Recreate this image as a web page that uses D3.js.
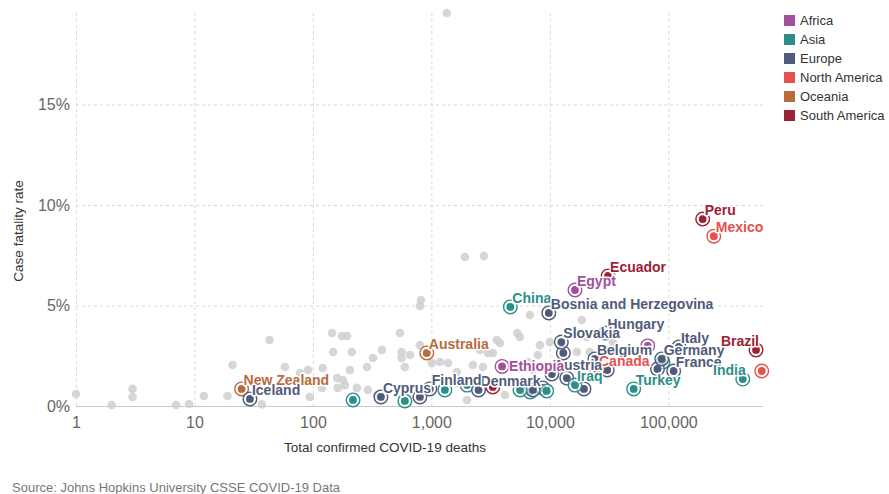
<!DOCTYPE html>
<html>
<head>
<meta charset="utf-8">
<script src="https://cdn.jsdelivr.net/npm/d3@7"></script>
<style>
  html, body { margin: 0; padding: 0; background: #fff; }
  svg { display: block; font-family: "Liberation Sans", Arial, Helvetica, sans-serif; }
</style>
</head>
<body>
<svg id="chart" width="889" height="494"></svg>
<script>
// Continents and their colours
const continents = ["Africa", "Asia", "Europe", "North America", "Oceania", "South America"];
const continentColors = ["#a2509e", "#2b8f88", "#505b7a", "#e5514e", "#b86b3d", "#9b2335"];

// Axis ticks
const xTicks = [1, 10, 100, 1000, 10000, 100000];
const yTicks = [0, 0.05, 0.10, 0.15];

// Countries drawn in grey (total deaths, case fatality rate)
const otherDeaths = [1, 2, 3, 3, 7, 9, 12, 19, 21, 43, 37, 58, 78, 91, 94, 121, 119, 145, 176, 194,
  148, 160, 179, 186, 162, 213, 205, 235, 286, 321, 382, 542, 560, 560, 659, 597, 291, 347,
  800, 1010, 1180, 1380, 1640, 2000, 2240, 2720, 3300, 3570, 1180, 1350, 1920, 2770, 815, 800,
  6780, 5580, 5300, 3790, 3000, 7920, 10000, 8240, 18600, 20500, 34000, 16900, 21800,
  6520, 7190, 4170, 1640, 2570];
const otherCfr = [0.0060, 0.0005, 0.0085, 0.0045, 0.0005, 0.0010, 0.0050, 0.0050, 0.0204, 0.0328, 0.0008,
  0.0194, 0.0164, 0.0179, 0.0045, 0.0189, 0.0090, 0.0363, 0.0348, 0.0348,
  0.0269, 0.0139, 0.0129, 0.0104, 0.0090, 0.0269, 0.0179, 0.0090, 0.0194, 0.0239, 0.0279, 0.0363, 0.0269, 0.0239, 0.0254, 0.0194, 0.0080, 0.0055,
  0.0303, 0.0214, 0.0219, 0.0214, 0.0169, 0.0030, 0.0204, 0.0194, 0.0264, 0.0328, 0.0139, 0.1955, 0.0741, 0.0746, 0.0527, 0.0498,
  0.0453, 0.0343, 0.0363, 0.0313, 0.0264, 0.0254, 0.0318, 0.0303, 0.0428, 0.0343, 0.0318, 0.0269, 0.0269,
  0.0219, 0.0179, 0.0055, 0.0114, 0.0279];

// Highlighted countries
const focusNames = ["United States", "South Africa", "Iran", "Spain", "Czechia", "Greece", "Venezuela",
  "Portugal", "Netherlands", "Japan", "Malaysia", "Serbia", "Israel", "Nepal", "Sri Lanka", "Kuwait",
  "Luxembourg", "Qatar", "Maldives",
  "Peru", "Mexico", "Ecuador", "Egypt", "China", "Bosnia and Herzegovina", "Hungary", "Slovakia",
  "Italy", "Germany", "France", "Belgium", "Canada", "Austria", "Ethiopia", "Denmark", "Finland",
  "Cyprus", "Iraq", "Turkey", "India", "Brazil", "New Zealand", "Iceland", "Australia"];
const focusContinents = ["North America", "Africa", "Asia", "Europe", "Europe", "Europe", "South America",
  "Europe", "Europe", "Europe", "Asia", "Europe", "Asia", "Asia", "Asia", "Asia",
  "Europe", "Asia", "Asia",
  "South America", "North America", "South America", "Africa", "Asia", "Europe", "Europe", "Europe",
  "Europe", "Europe", "Europe", "Europe", "North America", "Europe", "Africa", "Europe", "Europe",
  "Europe", "Asia", "Asia", "Asia", "South America", "Oceania", "Europe", "Oceania"];
const focusDeaths = [615000, 67000, 90000, 81000, 30500, 13000, 3300,
  13900, 19400, 8700, 6800, 7200, 9400, 5600, 2000, 1300,
  800, 597, 218,
  195000, 242000, 31000, 16300, 4640, 9800, 29500, 12500,
  123000, 88000, 111000, 24000, 25000, 10400, 3950, 2500, 970,
  375, 16300, 51000, 425000, 550000, 25, 29.4, 915];
const focusCfr = [0.0174, 0.0299, 0.0219, 0.0184, 0.0179, 0.0264, 0.0095,
  0.0139, 0.0085, 0.0090, 0.0070, 0.0080, 0.0075, 0.0080, 0.0104, 0.0080,
  0.0045, 0.0025, 0.0030,
  0.0930, 0.0845, 0.0647, 0.0577, 0.0493, 0.0463, 0.0363, 0.0318,
  0.0294, 0.0234, 0.0174, 0.0234, 0.0179, 0.0159, 0.0197, 0.0080, 0.0085,
  0.0045, 0.0104, 0.0085, 0.0134, 0.0279, 0.0085, 0.0035, 0.0264];
const labelledCountries = ["Peru", "Mexico", "Ecuador", "Egypt", "China", "Bosnia and Herzegovina",
  "Hungary", "Slovakia", "Italy", "Germany", "France", "Belgium", "Austria", "Canada", "Ethiopia",
  "Denmark", "Finland", "Cyprus", "Iraq", "Turkey", "India", "Brazil", "New Zealand", "Iceland", "Australia"];

// Label placement relative to the point (default: above right)
const labelSide = { "Ethiopia": "right", "India": "left", "Brazil": "left" };

const svg = d3.select("#chart");
const plotLeft = 76, plotRight = 763, plotTop = 12, plotBottom = 406;

const x = d3.scaleLog().domain([1, 630000]).range([plotLeft, plotRight]);
const y = d3.scaleLinear().domain([0, 0.196]).range([plotBottom, plotTop]);
const color = d3.scaleOrdinal().domain(continents).range(continentColors);

// Vertical grid + x tick labels
const xAxis = svg.append("g")
  .attr("transform", `translate(0,${plotBottom})`)
  .call(d3.axisBottom(x).tickValues(xTicks).tickFormat(d3.format(",")).tickSize(-(plotBottom - plotTop)).tickPadding(11));
xAxis.select(".domain").remove();
xAxis.selectAll(".tick line").attr("stroke", "#d9d9d9").attr("stroke-dasharray", "3,3");
xAxis.selectAll(".tick text").attr("fill", "#666").style("font-size", "16px")
  .style("font-family", "'Liberation Sans', Arial, sans-serif");

// Horizontal grid + y tick labels
const yAxis = svg.append("g")
  .attr("transform", `translate(${plotLeft},0)`)
  .call(d3.axisLeft(y).tickValues(yTicks).tickFormat(d3.format(".0%")).tickSize(-(plotRight - plotLeft)).tickPadding(6));
yAxis.select(".domain").remove();
yAxis.selectAll(".tick line")
  .attr("stroke", d => d === 0 ? "#c8c8c8" : "#d9d9d9")
  .attr("stroke-dasharray", d => d === 0 ? null : "3,3");
yAxis.selectAll(".tick text").attr("fill", "#666").style("font-size", "16px")
  .style("font-family", "'Liberation Sans', Arial, sans-serif");

// Axis titles
svg.append("text")
  .attr("x", 385).attr("y", 452)
  .attr("text-anchor", "middle").attr("fill", "#333").style("font-size", "13.5px")
  .text("Total confirmed COVID-19 deaths");
svg.append("text")
  .attr("transform", `translate(23,${(plotTop + plotBottom) / 2 + 22}) rotate(-90)`)
  .attr("text-anchor", "middle").attr("fill", "#333").style("font-size", "13.5px")
  .text("Case fatality rate");

// Source note
svg.append("text")
  .attr("x", 12).attr("y", 492).attr("fill", "#777").style("font-size", "13px")
  .text("Source: Johns Hopkins University CSSE COVID-19 Data");

// Grey background points
const others = otherDeaths.map((d, i) => ({ deaths: d, cfr: otherCfr[i] }));
svg.append("g").selectAll("circle").data(others).join("circle")
  .attr("cx", d => x(d.deaths)).attr("cy", d => y(d.cfr)).attr("r", 4.3)
  .attr("fill", "#cfcfcf").attr("fill-opacity", 0.85);

// Highlighted points
const focus = focusNames.map((n, i) => ({
  name: n, continent: focusContinents[i], deaths: focusDeaths[i], cfr: focusCfr[i]
}));
const marks = svg.append("g").selectAll("g").data(focus).join("g")
  .attr("transform", d => `translate(${x(d.deaths)},${y(d.cfr)})`);
marks.append("circle").attr("r", 6.8).attr("fill", "#fff").attr("fill-opacity", 0.6)
  .attr("stroke", d => color(d.continent)).attr("stroke-width", 1.4);
marks.append("circle").attr("r", 3.9).attr("fill", d => color(d.continent));

// Country labels with white halo
const labels = focus.filter(d => labelledCountries.includes(d.name));
svg.append("g").selectAll("text").data(labels).join("text")
  .attr("x", d => {
    const side = labelSide[d.name];
    if (side === "right") return x(d.deaths) + 7;
    if (side === "left") return x(d.deaths) + 3;
    return x(d.deaths) + 2;
  })
  .attr("y", d => labelSide[d.name] === "right" ? y(d.cfr) + 5 : y(d.cfr) - 4)
  .attr("text-anchor", d => labelSide[d.name] === "left" ? "end" : "start")
  .attr("fill", d => color(d.continent))
  .attr("stroke", "#fff").attr("stroke-width", 3).attr("stroke-linejoin", "round")
  .attr("paint-order", "stroke")
  .style("font-size", "14px").style("font-weight", "bold")
  .text(d => d.name);

// Legend
const legend = svg.append("g").attr("transform", "translate(784,15)");
const items = legend.selectAll("g").data(continents).join("g")
  .attr("transform", (d, i) => `translate(0,${i * 19})`);
items.append("rect").attr("width", 11).attr("height", 11).attr("fill", d => color(d));
items.append("text").attr("x", 16).attr("y", 10).attr("fill", "#333").style("font-size", "13px")
  .text(d => d);
</script>
</body>
</html>
